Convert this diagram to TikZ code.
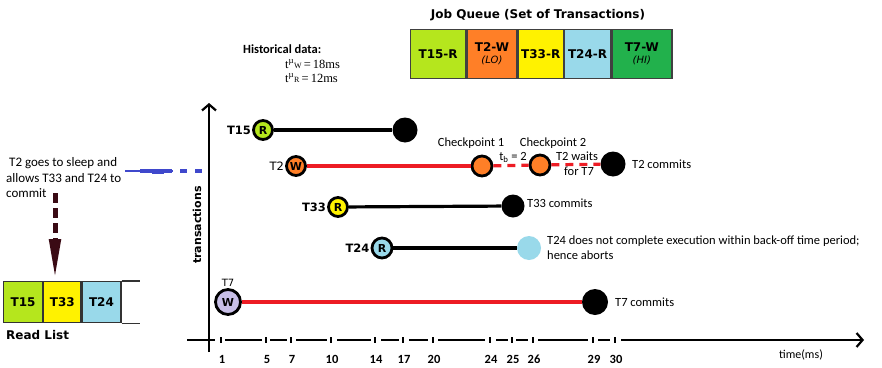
\documentclass[tikz,border=0pt]{standalone}
\usepackage{fontspec}
\setmainfont{Carlito}
\newfontfamily\verd{DejaVu Sans}
\newfontfamily\tnr{Liberation Serif}
\usetikzlibrary{arrows.meta,positioning}
\definecolor{lime}{HTML}{B5E61D}
\definecolor{orng}{HTML}{FF7F27}
\definecolor{yel}{HTML}{FFF200}
\definecolor{ltblue}{HTML}{99D9EA}
\definecolor{grn}{HTML}{22B14C}
\definecolor{lav}{HTML}{C8BFE7}
\definecolor{redl}{HTML}{ED1C24}
\definecolor{bluel}{HTML}{3F48CC}
\definecolor{maroonc}{HTML}{3A0A14}
\tikzset{
	qbox/.style={rectangle,draw=black!75,line width=1.3pt,fill=#1,minimum height=49pt,inner sep=0pt,align=center,font=\verd\bfseries\fontsize{12}{13}\selectfont},
	rbox/.style={rectangle,draw=black!80,line width=1.2pt,fill=#1,minimum height=41pt,inner sep=0pt,font=\verd\bfseries\fontsize{12}{13}\selectfont},
	tname/.style={font=\verd\bfseries\fontsize{11.5}{12}\selectfont,inner sep=1pt},
	txn/.style n args={3}{circle,draw,line width=2.8pt,fill=#1,minimum size=19pt,inner sep=0pt,font=\verd\bfseries\fontsize{11}{11}\selectfont,label={[tname]#2:#3}},
	commit/.style={circle,fill=black,minimum size=25pt,inner sep=0pt},
	abort/.style={circle,fill=ltblue,minimum size=24pt,inner sep=0pt},
	chk/.style={circle,draw,line width=2.8pt,fill=orng,minimum size=20pt,inner sep=0pt},
	bline/.style={line width=3.2pt,black},
	rline/.style={line width=3.2pt,redl},
	rdash/.style={line width=3.2pt,redl,dash pattern=on 8pt off 6pt},
	note/.style={font=\fontsize{12.5}{15}\selectfont,inner sep=0pt},
	hdata/.style={inner sep=0pt,anchor=west,font=\tnr\fontsize{12.5}{13}\selectfont},
	tnum/.style={font=\bfseries\fontsize{12.5}{12}\selectfont,inner sep=0pt},
	axis/.style={line width=2.4pt,-{Straight Barb[length=6pt,width=14pt,line width=2.2pt]}},
	xseg/.style={line width=2.4pt},
	sleep/.style={draw=maroonc,line width=5pt,dash pattern=on 10pt off 5pt,-{Triangle[length=40pt,width=11pt]}}
}

\begin{document}
\begin{tikzpicture}[x=1pt,y=-1pt]
\useasboundingbox (0,0) rectangle (882,367);

% job queue
\node[font=\verd\bfseries\fontsize{12}{14}\selectfont] (qtitle) at (538,15) {Job Queue (Set of Transactions)};
\node[qbox=lime,minimum width=55pt,anchor=north west] (q15) at (410,29) {T15-R};
\node[qbox=orng,minimum width=50pt,right=0pt of q15] (q2) {T2-W\\[-1pt]{\mdseries\itshape\fontsize{10}{10}\selectfont(LO)}};
\node[qbox=yel,minimum width=45pt,right=0pt of q2] (q33) {T33-R};
\node[qbox=ltblue,minimum width=46pt,right=0pt of q33] (q24) {T24-R};
\node[qbox=grn,minimum width=60pt,right=0pt of q24] (q7) {T7-W\\[-1pt]{\mdseries\itshape\fontsize{10}{10}\selectfont(HI)}};

% historical data
\node[note,font=\bfseries\fontsize{12.5}{15}\selectfont,anchor=west] (hist) at (243,49) {Historical data:};
\node[hdata] (histw) at (285,64) {t\textsuperscript{µ}{\footnotesize W}\,=\,18ms};
\node[hdata] (histr) at (285,78) {t\textsuperscript{µ}{\footnotesize R}\,=\,12ms};

% axes
\coordinate (yb) at (209,352);
\coordinate (yt) at (209,103);
\draw[axis] (yb) -- (yt);
\foreach \a/\b in {187/215,225/262,270/287,296/327,337/371,381/399,409/428,438/485,496/508,516/528,538/588,598/610}
	\draw[xseg] (\a,340) -- (\b,340);
\coordinate (xa) at (621,340);
\coordinate (xb) at (864,340);
\draw[axis] (xa) -- (xb);
\foreach \x/\t in {221/1,266/5,291/7,331/10,375/14,403/17,433/20,490/24,512/25,533/26,593/29,615/30}{
	\fill (\x-1.4,337) rectangle (\x+1.4,343);
	\node[tnum] (n\t) at (\x+1,359) {\t};
}
\node[font=\fontsize{12}{12}\selectfont,inner sep=0pt] (tlab) at (801,355) {time(ms)};
\node[rotate=90,font=\verd\bfseries\fontsize{11}{11}\selectfont,inner sep=0pt] (ylab) at (197,225) {transactions};

% transactions
\node[txn={lime}{180}{T15}] (t15s) at (263,130) {R};
\node[commit] (t15e) at (405,130) {};
\node[txn={orng}{180}{\mdseries T2}] (t2s) at (296,166) {W};
\node[chk] (cp1) at (482,166) {};
\node[chk] (cp2) at (540,165) {};
\node[commit] (t2e) at (613,164) {};
\node[txn={yel}{180}{T33}] (t33s) at (338,207) {R};
\node[commit,minimum size=23pt] (t33e) at (513,206) {};
\node[txn={ltblue}{180}{T24},minimum size=20pt] (t24s) at (382,248) {R};
\node[abort] (t24e) at (529,248) {};
\node[txn={lav}{90}{\mdseries\fontsize{10}{10}\selectfont T7},minimum size=25pt] (t7s) at (228,302) {W};
\node[commit,minimum size=26pt] (t7e) at (595,302) {};

\draw[bline] (t15s) -- (t15e);
\draw[rline] (t2s) -- (cp1);
\draw[rdash] (cp1) -- (cp2);
\draw[rdash] (cp2) -- (t2e);
\draw[bline] (t33s) -- (t33e);
\draw[bline] (t24s) -- (t24e);
\draw[rline] (t7s) -- (t7e);

% notes
\node[note] (cp1lab) at (471,143) {Checkpoint 1};
\node[note] (cp2lab) at (553,143) {Checkpoint 2};
\node[note] (tb) at (513,157) {t\textsubscript{b} = 2};
\node[note,align=center] (wait) at (577,164) {T2 waits\\\hspace{4pt}for T7};
\node[note,anchor=west] (t2c) at (632,164) {T2 commits};
\node[note,anchor=west] (t33c) at (527,203) {T33 commits};
\node[note,anchor=west,align=left] (t24c) at (547,248) {T24 does not complete execution within back-off time period;\\hence aborts};
\node[note,anchor=west] (t7c) at (615,302) {T7 commits};

% read list
\node[rbox=lime,minimum width=39pt,anchor=north west] (r15) at (3,281) {T15};
\node[rbox=yel,minimum width=37pt,right=0pt of r15] (r33) {T33};
\node[rbox=ltblue,minimum width=39pt,right=0pt of r33] (r24) {T24};
\draw[line width=1.2pt,black!80] (r24.north east) -- ++(18,0);
\draw[line width=1.2pt,black!80] (r24.south east) -- ++(18,0);
\node[anchor=west,inner sep=0pt,font=\verd\bfseries\fontsize{12}{12}\selectfont] (rlab) at (6,335) {Read List};

% sleep note
\node[note,font=\fontsize{13}{15.5}\selectfont,anchor=west,align=left] (sleepnote) at (6,178) {\hspace{3pt}T2 goes to sleep and\\allows T33 and T24 to\\commit};
\coordinate (slpa) at (55,193);
\coordinate (slpb) at (55,279);
\draw[sleep] (slpa) -- (slpb);
\coordinate (bla) at (125,171);
\coordinate (blb) at (173,171);
\coordinate (blc) at (180,171);
\coordinate (bld) at (204,171);
\draw[bluel,line width=2pt] (bla) -- (blb);
\draw[bluel,line width=3.5pt] (140,171) -- (172,171);
\draw[bluel,line width=5pt] (152,171) -- (164,171);
\draw[bluel,line width=3.5pt,dash pattern=on 7pt off 8pt] (blc) -- (bld);
\end{tikzpicture}
\end{document}
